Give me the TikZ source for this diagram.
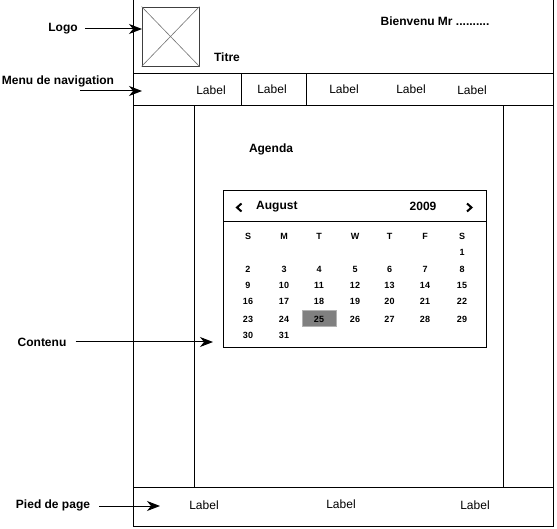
\documentclass[tikz,border=0pt]{standalone}
\usepackage{fontspec}
\setmainfont{Liberation Sans}
\usetikzlibrary{arrows.meta}
\begin{document}
\begin{tikzpicture}[x=1pt,y=-1pt,
  frame/.style={draw=black,line width=1pt},
  lbl/.style={font=\fontsize{12}{14}\selectfont,inner sep=0pt},
  blbl/.style={font=\fontsize{12}{14}\selectfont\bfseries,inner sep=0pt},
  cal/.style={font=\fontsize{9}{11}\selectfont\bfseries,inner sep=0pt},
  arr/.style={draw=black,line width=1pt,-{Stealth[length=13pt,width=10pt,inset=4pt]}},
  chev/.style={draw=black,line width=2pt}]
\useasboundingbox (0,0) rectangle (557,529);
% outer frame and regions
\draw[frame] (133,0) rectangle (553,526);
\draw[frame] (133,74) -- (553,74);
\draw[frame] (133,106) -- (553,106);
\draw[frame] (133,487) -- (553,487);
\draw[frame] (241,74) -- (241,106);
\draw[frame] (306,74) -- (306,106);
\draw[frame] (194,106) -- (194,487);
\draw[frame] (503,106) -- (503,487);
% logo placeholder
\node[draw=black!75,line width=0.8pt,minimum width=57pt,minimum height=59pt,inner sep=0pt] (logo) at (170.5,36.5) {};
\draw[black!55,line width=0.6pt] (logo.north west) -- (logo.south east) (logo.north east) -- (logo.south west);
% header texts
\node[blbl] (titre) at (227,57) {Titre};
\node[blbl] (bienvenu) at (435,21) {Bienvenu Mr ..........};
% nav labels
\node[lbl] (n1) at (211,90) {Label};
\node[lbl] (n2) at (272,89) {Label};
\node[lbl] (n3) at (344,89) {Label};
\node[lbl] (n4) at (411,89) {Label};
\node[lbl] (n5) at (472,90) {Label};
% footer labels
\node[lbl] (f1) at (204,505.5) {Label};
\node[lbl] (f2) at (341,504.5) {Label};
\node[lbl] (f3) at (475,505.5) {Label};
% content
\node[blbl] (agenda) at (271,149) {Agenda};
\node[frame,minimum width=263pt,minimum height=157pt,inner sep=0pt] (calbox) at (354.5,269.5) {};
\draw[frame] (223,222) -- (486,222);
\node[font=\fontsize{12}{14}\selectfont\bfseries,inner sep=0pt,anchor=west] (month) at (256,206.5) {August};
\node[font=\fontsize{12}{14}\selectfont\bfseries,inner sep=0pt] (year) at (423,206.5) {2009};
\draw[chev] (241.5,203.5) -- (237,207.5) -- (241.5,211.5);
\draw[chev] (467,203.5) -- (471.5,207.5) -- (467,211.5);
% highlight
\node[fill=black!50,draw=black!30,line width=0.6pt,minimum width=34pt,minimum height=16pt,inner sep=0pt] (hl) at (319,318) {};
% calendar grid
\foreach \d/\x in {S/248,M/284,T/319,W/355,T/389.5,F/425,S/462}
  \node[cal] at (\x,236) {\d};
\node[cal] (d1) at (462,252.5) {1};
\foreach \r/\y in {0/269,1/285,2/301.5,3/319}{
  \foreach \c/\x in {0/248,1/284,2/319,3/355,4/389.5,5/425,6/462}{
    \pgfmathtruncatemacro{\n}{2+7*\r+\c}
    \node[cal] at (\x,\y) {\n};
  }
}
\node[cal] (d30) at (248,335.5) {30};
\node[cal] (d31) at (284,335.5) {31};
% annotations
\node[blbl] (tlogo) at (63,29) {Logo};
\coordinate (alogo) at (142,29);
\draw[arr] (tlogo.east) ++(7,0) -- (alogo);
\node[blbl] (tmenu) at (58,81) {Menu de navigation};
\coordinate (smenu) at (80,91);
\coordinate (amenu) at (142,91);
\draw[arr] (smenu) -- (amenu);
\node[blbl] (tcont) at (42,342) {Contenu};
\coordinate (acont) at (213,342);
\draw[arr] (tcont.east) ++(9,0) -- (acont);
\node[blbl] (tpied) at (53,505) {Pied de page};
\coordinate (apied) at (160,506);
\draw[arr] (tpied.east) ++(9,1) -- (apied);
\end{tikzpicture}
\end{document}
